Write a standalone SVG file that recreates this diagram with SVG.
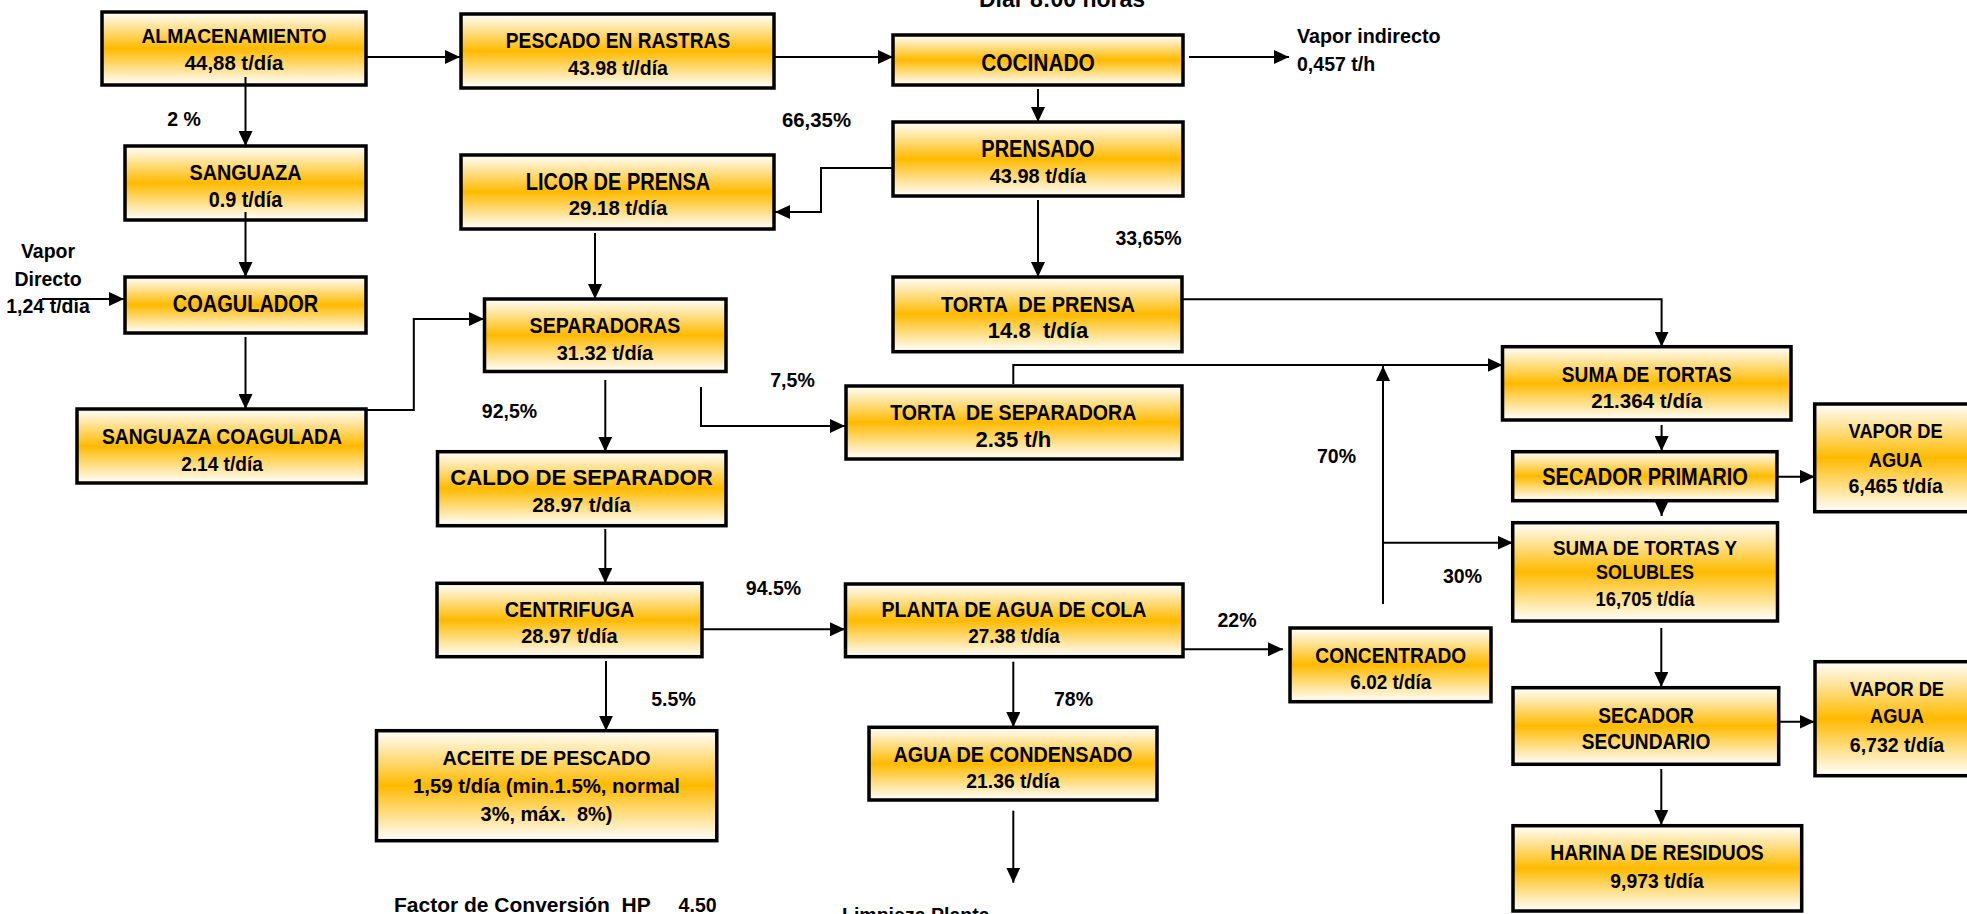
<svg xmlns="http://www.w3.org/2000/svg" width="1967" height="914" viewBox="0 0 1967 914">
<style>
.b{fill:url(#g);stroke:#000;stroke-width:3.5}
.t{font-family:"Liberation Sans",Arial,sans-serif;font-weight:bold;text-anchor:middle;fill:#000}
.l{font-family:"Liberation Sans",Arial,sans-serif;font-weight:bold;text-anchor:start;fill:#000}
.f20{font-size:20px}.f21{font-size:21px}.f22{font-size:22px}.f23{font-size:23px}.f24{font-size:24px}
.c{fill:none;stroke:#000;stroke-width:2}
.a{marker-end:url(#ah)}
</style>
<defs>
<linearGradient id="g" x1="0" y1="0" x2="0" y2="1">
<stop offset="0" stop-color="#FFFFFF"/>
<stop offset="0.5" stop-color="#FFBA00"/>
<stop offset="1" stop-color="#FFFFFF"/>
</linearGradient>
<marker id="ah" markerWidth="15" markerHeight="14" refX="15" refY="7" orient="auto" markerUnits="userSpaceOnUse">
<path d="M0,0 L15,7 L0,14 z" fill="#000"/>
</marker>
</defs>
<rect width="1967" height="914" fill="#fff"/>

<g id="nodes">
<g id="almacenamiento"><rect class="b" x="102" y="12" width="264" height="73"/>
<text class="t f21" transform="translate(234,43) scale(.92,1)">ALMACENAMIENTO</text>
<text class="t f21" transform="translate(234,70) scale(.97,1)">44,88 t/día</text></g>

<g id="pescado"><rect class="b" x="461" y="14" width="313" height="74"/>
<text class="t f22" transform="translate(618,48.3) scale(.87,1)">PESCADO EN RASTRAS</text>
<text class="t f21" transform="translate(618,75) scale(.93,1)">43.98 t//día</text></g>

<g id="cocinado"><rect class="b" x="893" y="35" width="290" height="50"/>
<text class="t f24" transform="translate(1038,70.7) scale(.87,1)">COCINADO</text></g>

<g id="prensado"><rect class="b" x="893" y="122" width="290" height="74"/>
<text class="t f23" transform="translate(1038,157) scale(.87,1)">PRENSADO</text>
<text class="t f21" transform="translate(1038,183) scale(.95,1)">43.98 t/día</text></g>

<g id="licor"><rect class="b" x="461" y="155" width="313" height="74"/>
<text class="t f23" transform="translate(618,190) scale(.87,1)">LICOR DE PRENSA</text>
<text class="t f21" transform="translate(618,215) scale(.97,1)">29.18 t/día</text></g>

<g id="sanguaza"><rect class="b" x="125" y="146" width="241" height="74"/>
<text class="t f22" transform="translate(245.5,180) scale(.9,1)">SANGUAZA</text>
<text class="t f22" transform="translate(245.5,207) scale(.9,1)">0.9 t/día</text></g>

<g id="coagulador"><rect class="b" x="125" y="277" width="241" height="56"/>
<text class="t f23" transform="translate(245.5,311.7) scale(.87,1)">COAGULADOR</text></g>

<g id="sanguaza-coagulada"><rect class="b" x="77" y="409" width="289" height="74"/>
<text class="t f22" transform="translate(222,444) scale(.88,1)">SANGUAZA COAGULADA</text>
<text class="t f21" transform="translate(222,470.7) scale(.91,1)">2.14 t/día</text></g>

<g id="separadoras"><rect class="b" x="484.5" y="299" width="241.5" height="72.5"/>
<text class="t f22" transform="translate(605,333.3) scale(.89,1)">SEPARADORAS</text>
<text class="t f21" transform="translate(605,360) scale(.95,1)">31.32 t/día</text></g>

<g id="torta-prensa"><rect class="b" x="893" y="277" width="289" height="74.7"/>
<text class="t f22" xml:space="preserve" transform="translate(1038,311.7) scale(.91,1)">TORTA  DE PRENSA</text>
<text class="t f22" xml:space="preserve" transform="translate(1038,338.3) scale(1,1)">14.8  t/día</text></g>

<g id="torta-separadora"><rect class="b" x="846" y="386" width="336" height="73"/>
<text class="t f22" xml:space="preserve" transform="translate(1013.3,420) scale(.89,1)">TORTA  DE SEPARADORA</text>
<text class="t f22" transform="translate(1013.3,446.7) scale(1,1)">2.35 t/h</text></g>

<g id="caldo"><rect class="b" x="437.5" y="451.7" width="288.5" height="74"/>
<text class="t f22" transform="translate(581.5,485) scale(1.01,1)">CALDO DE SEPARADOR</text>
<text class="t f21" transform="translate(581.5,511.7) scale(.97,1)">28.97 t/día</text></g>

<g id="centrifuga"><rect class="b" x="437" y="583.3" width="265" height="73.4"/>
<text class="t f22" transform="translate(569.5,616.7) scale(.9,1)">CENTRIFUGA</text>
<text class="t f21" transform="translate(569.5,643.3) scale(.95,1)">28.97 t/día</text></g>

<g id="planta"><rect class="b" x="845.5" y="584" width="337.5" height="72.7"/>
<text class="t f22" transform="translate(1014,616.7) scale(.89,1)">PLANTA DE AGUA DE COLA</text>
<text class="t f21" transform="translate(1014,643.3) scale(.9,1)">27.38 t/día</text></g>

<g id="concentrado"><rect class="b" x="1290" y="628" width="201" height="73.7"/>
<text class="t f22" transform="translate(1390.8,662.7) scale(.87,1)">CONCENTRADO</text>
<text class="t f21" transform="translate(1390.8,689.3) scale(.9,1)">6.02 t/día</text></g>

<g id="agua-condensado"><rect class="b" x="869" y="727.3" width="288" height="72.7"/>
<text class="t f22" transform="translate(1013,761.7) scale(.9,1)">AGUA DE CONDENSADO</text>
<text class="t f21" transform="translate(1013,788.3) scale(.92,1)">21.36 t/día</text></g>

<g id="aceite"><rect class="b" x="376.5" y="730.7" width="340.3" height="110"/>
<text class="t f21" transform="translate(546.5,765) scale(.94,1)">ACEITE DE PESCADO</text>
<text class="t f21" transform="translate(546.5,792.7) scale(.97,1)">1,59 t/día (min.1.5%, normal</text>
<text class="t f21" xml:space="preserve" transform="translate(546.5,820.7) scale(.95,1)">3%, máx.  8%)</text></g>

<g id="suma-tortas"><rect class="b" x="1502.5" y="346.7" width="288.5" height="73.3"/>
<text class="t f22" transform="translate(1646.7,381.7) scale(.87,1)">SUMA DE TORTAS</text>
<text class="t f21" transform="translate(1646.7,408.3) scale(.98,1)">21.364 t/día</text></g>

<g id="secador-primario"><rect class="b" x="1512.7" y="451.7" width="264.3" height="49"/>
<text class="t f23" transform="translate(1645,485) scale(.87,1)">SECADOR PRIMARIO</text></g>

<g id="suma-solubles"><rect class="b" x="1512.7" y="522.7" width="264.8" height="98.3"/>
<text class="t f20" transform="translate(1645,555) scale(.94,1)">SUMA DE TORTAS Y</text>
<text class="t f20" transform="translate(1645,579.3) scale(.9,1)">SOLUBLES</text>
<text class="t f20" transform="translate(1645,606) scale(.92,1)">16,705 t/día</text></g>

<g id="vapor-agua-1"><rect class="b" x="1814.7" y="404" width="162" height="107.7"/>
<text class="t f21" transform="translate(1895.6,438.3) scale(.87,1)">VAPOR DE</text>
<text class="t f21" transform="translate(1895.6,466.7) scale(.87,1)">AGUA</text>
<text class="t f21" transform="translate(1895.6,493) scale(.93,1)">6,465 t/día</text></g>

<g id="secador-secundario"><rect class="b" x="1513" y="687.7" width="265.7" height="76.6"/>
<text class="t f22" transform="translate(1646,722.7) scale(.87,1)">SECADOR</text>
<text class="t f22" transform="translate(1646,749.3) scale(.87,1)">SECUNDARIO</text></g>

<g id="vapor-agua-2"><rect class="b" x="1815" y="661.7" width="162" height="114"/>
<text class="t f21" transform="translate(1897,696) scale(.87,1)">VAPOR DE</text>
<text class="t f21" transform="translate(1897,723.3) scale(.87,1)">AGUA</text>
<text class="t f21" transform="translate(1897,751.7) scale(.93,1)">6,732 t/día</text></g>

<g id="harina"><rect class="b" x="1513" y="825.7" width="288.7" height="85.3"/>
<text class="t f22" transform="translate(1657,860) scale(.88,1)">HARINA DE RESIDUOS</text>
<text class="t f21" transform="translate(1657,888.3) scale(.92,1)">9,973 t/día</text></g>
</g>

<g id="connectors">
<path class="c a" d="M366,57 H460"/>
<path class="c a" d="M245.5,77 V146"/>
<path class="c a" d="M245.5,212 V277"/>
<path class="c a" d="M42,299 H124"/>
<path class="c a" d="M245.5,337 V409"/>
<path class="c a" d="M366,410 H413.8 V319 H484"/>
<path class="c a" d="M774.5,57 H893"/>
<path class="c a" d="M1189,57 H1289"/>
<path class="c a" d="M1038,89 V122"/>
<path class="c a" d="M893,168 H821 V212 H775"/>
<path class="c a" d="M1038,200 V277"/>
<path class="c a" d="M595,233 V299"/>
<path class="c a" d="M1182,299.3 H1661.6 V346.7"/>
<path class="c a" d="M1013.3,384 V365 H1502.5"/>
<path class="c a" d="M701,387 V426 H845"/>
<path class="c a" d="M605.3,380 V451.7"/>
<path class="c a" d="M605.3,529 V583"/>
<path class="c a" d="M702,629.3 H845"/>
<path class="c a" d="M606,661 V730.7"/>
<path class="c a" d="M1183,649.3 H1283"/>
<path class="c a" d="M1013.3,661.7 V727"/>
<path class="c a" d="M1013.3,810.7 V882.7"/>
<path class="c a" d="M1383,604 V366"/>
<path class="c a" d="M1383,542.7 H1512.7"/>
<path class="c a" d="M1661.6,425 V451"/>
<path class="c a" d="M1661.6,500 V516"/>
<path class="c a" d="M1777,476.7 H1814.7"/>
<path class="c a" d="M1661.3,628 V687"/>
<path class="c a" d="M1778.7,721.7 H1814.5"/>
<path class="c a" d="M1661.3,769 V825"/>
</g>

<g id="labels">
<text class="t f23" transform="translate(1062,7) scale(1,1)">Diar 8:00 horas</text>
<text class="t f21" xml:space="preserve" transform="translate(184,126) scale(.93,1)">2 %</text>
<text class="t f21" transform="translate(48,258) scale(.93,1)">Vapor</text>
<text class="t f21" transform="translate(48,286) scale(.93,1)">Directo</text>
<text class="t f21" transform="translate(48,313) scale(.93,1)">1,24 t/día</text>
<text class="t f21" transform="translate(816.5,127) scale(.97,1)">66,35%</text>
<text class="l f21" transform="translate(1297,43) scale(.94,1)">Vapor indirecto</text>
<text class="l f21" transform="translate(1297,70.7) scale(.93,1)">0,457 t/h</text>
<text class="t f21" transform="translate(1148.5,245) scale(.93,1)">33,65%</text>
<text class="t f21" transform="translate(792.5,386.7) scale(.93,1)">7,5%</text>
<text class="t f21" transform="translate(509.5,418.3) scale(.93,1)">92,5%</text>
<text class="t f21" transform="translate(1336.5,463.3) scale(.93,1)">70%</text>
<text class="t f21" transform="translate(1462.5,582.7) scale(.93,1)">30%</text>
<text class="t f21" transform="translate(773.5,595) scale(.93,1)">94.5%</text>
<text class="t f21" transform="translate(1237,627) scale(.93,1)">22%</text>
<text class="t f21" transform="translate(673.5,706) scale(.93,1)">5.5%</text>
<text class="t f21" transform="translate(1073.5,706) scale(.93,1)">78%</text>
<text class="l f21" xml:space="preserve" transform="translate(394,911.7) scale(1,1)">Factor de Conversión  HP</text>
<text class="l f21" transform="translate(678.6,911.7) scale(.93,1)">4.50</text>
<text class="l f21" transform="translate(842,922) scale(.93,1)">Limpieza Planta</text>
</g>
</svg>
